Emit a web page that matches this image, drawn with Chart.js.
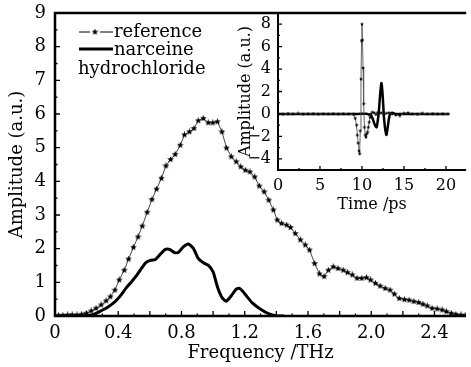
<!DOCTYPE html>
<html>
<head>
<meta charset="utf-8">
<script src="https://cdn.jsdelivr.net/npm/chart.js@4/dist/chart.umd.min.js"></script>
<style>
html, body { margin: 0; padding: 0; background: #fff; }
#wrap { position: relative; width: 471px; height: 367px; }
#main { position: absolute; left: 0; top: 0; }
#inset { position: absolute; left: 230px; top: 0; }
</style>
</head>
<body>
<div id="wrap">
<canvas id="main" width="471" height="367"></canvas>
<canvas id="inset" width="241" height="220"></canvas>
</div>
<script>
// main spectrum, reference (stars)
const refFreq = [
  0.021,0.050,0.080,0.109,0.139,0.168,0.198,0.229,0.260,0.292,
  0.323,0.350,0.379,0.406,0.438,0.465,0.496,0.525,0.552,0.583,
  0.613,0.642,0.673,0.702,0.731,0.760,0.792,0.819,0.850,0.879,
  0.906,0.938,0.969,0.998,1.027,1.056,1.085,1.115,1.146,1.175,
  1.204,1.233,1.263,1.292,1.323,1.352,1.381,1.406,1.433,1.465,
  1.490,1.520,1.552,1.583,1.610,1.642,1.673,1.702,1.729,1.760,
  1.790,1.823,1.850,1.880,1.910,1.940,1.970,1.996,2.027,2.056,
  2.088,2.119,2.146,2.177,2.210,2.240,2.270,2.300,2.327,2.354,
  2.385,2.417,2.448,2.475,2.506,2.535,2.567,2.594
]
const refAmp = [
  0.02,0.02,0.03,0.03,0.03,0.05,0.08,0.15,0.23,0.33,
  0.45,0.57,0.77,1.07,1.36,1.69,2.04,2.35,2.67,3.08,
  3.46,3.77,4.09,4.46,4.65,4.80,5.07,5.38,5.47,5.57,
  5.80,5.87,5.74,5.74,5.77,5.47,4.99,4.73,4.58,4.43,
  4.33,4.28,4.13,3.86,3.69,3.44,3.15,2.85,2.75,2.70,
  2.63,2.45,2.26,2.11,1.96,1.56,1.25,1.17,1.36,1.46,
  1.41,1.36,1.29,1.22,1.12,1.12,1.14,1.07,0.97,0.89,
  0.82,0.77,0.65,0.52,0.49,0.47,0.43,0.40,0.35,0.30,
  0.23,0.21,0.18,0.13,0.08,0.05,0.03,0.02
]

// main spectrum, narceine hydrochloride (thick line)
const narFreq = [
  0.02,0.10,0.20,0.229,0.260,0.290,0.323,0.354,0.385,0.417,
  0.448,0.479,0.510,0.542,0.573,0.604,0.635,0.667,0.698,0.725,
  0.756,0.780,0.813,0.844,0.875,0.906,0.938,0.969,1.000,1.027,
  1.056,1.083,1.115,1.146,1.167,1.190,1.210,1.250,1.300,1.354,
  1.396,1.450
]
const narAmp = [
  0.00,0.00,0.01,0.03,0.08,0.15,0.23,0.33,0.45,0.62,
  0.82,0.99,1.17,1.38,1.58,1.65,1.68,1.84,1.98,1.98,
  1.88,1.89,2.06,2.14,2.01,1.71,1.58,1.51,1.31,0.87,
  0.55,0.44,0.60,0.80,0.82,0.72,0.60,0.38,0.20,0.06,
  0.01,0.00
]

// inset, time domain
const insetRefTime = [
  0.0,0.6,1.2,1.8,2.4,3.0,3.6,4.2,4.8,5.4,
  6.0,6.6,7.2,7.8,8.4,9.0,9.2,9.35,9.45,9.55,
  9.65,9.72,9.8,9.88,9.95,10.0,10.06,10.13,10.2,10.3,
  10.4,10.47,10.56,10.66,10.76,10.86,10.96,11.05,11.25,11.45,
  11.65,11.85,12.05,12.3,12.6,12.9,13.2,13.6,14.0,14.5,
  15.0,15.5,16.0,16.6,17.2,17.8,18.4,19.0,19.6,20.3
]
const insetRefAmp = [
  0.02,-0.03,0.03,0.0,0.04,-0.02,0.02,0.03,-0.03,0.02,
  0.0,0.03,-0.02,0.02,0.0,-0.05,-0.4,-1.0,-1.9,-2.6,
  -3.3,-3.56,-1.5,3.1,6.5,8.0,6.6,4.1,0.9,-1.2,
  -1.9,-2.08,-1.8,-1.63,-1.2,-0.74,-0.3,0.0,0.15,0.1,
  -0.05,0.12,0.05,0.1,-0.05,0.05,0.1,0.0,-0.1,-0.15,
  0.05,0.1,0.0,-0.05,0.05,0.0,0.03,-0.02,0.02,0.0
]
const insetNarTime = [
  0.0,2.0,4.0,6.0,8.0,9.5,10.5,10.8,11.05,11.2,
  11.36,11.55,11.74,11.88,12.02,12.15,12.33,12.5,12.65,12.9,
  13.1,13.3,13.57,14.0,15.0,16.0,18.0,20.3
]
const insetNarAmp = [
  0.0,0.0,0.0,0.0,0.0,0.0,0.02,-0.05,-0.1,-0.3,
  -0.6,-1.0,-1.19,-0.6,0.3,1.6,2.75,1.2,-0.6,-1.87,
  -1.0,-0.1,0.1,0.0,0.0,0.0,0.0,0.0
]

const freqTicks = [0, 0.4, 0.8, 1.2, 1.6, 2.0, 2.4]
const ampTicks = [0, 1, 2, 3, 4, 5, 6, 7, 8, 9]
const timeTicks = [0, 5, 10, 15, 20]
const insetAmpTicks = [-4, -2, 0, 2, 4, 6, 8]

const SERIF = "'DejaVu Serif', serif"
Chart.defaults.color = '#000'
Chart.defaults.font.family = SERIF

function starImage(size) {
  let c = document.createElement('canvas')
  c.width = size
  c.height = size
  let g = c.getContext('2d')
  let r = size / 2, ri = r * 0.45
  g.beginPath()
  for (let i = 0; i < 10; i++) {
    let rad = i % 2 ? ri : r
    let ang = -Math.PI / 2 + i * Math.PI / 5
    g.lineTo(r + rad * Math.cos(ang), r + rad * Math.sin(ang))
  }
  g.closePath()
  g.fillStyle = '#000'
  g.fill()
  return c
}

function points(xs, ys) {
  return xs.map((x, i) => ({ x: x, y: ys[i] }))
}

function fixedTicks(list) {
  return scale => { scale.ticks = list.map(v => ({ value: v })) }
}

// fixed box sizes so the plot area lands where the picture has it
function fitWidth(w) {
  return s => { s.width = w; s.paddingTop = 0; s.paddingBottom = 0 }
}
function fitHeight(h) {
  return s => { s.height = h; s.paddingLeft = 0; s.paddingRight = 0 }
}

function isMult(v, step) {
  let q = v / step
  return Math.abs(q - Math.round(q)) < 1e-6
}

// axes frame with inward ticks
const framePlugin = {
  id: 'frame',
  afterDatasetsDraw(chart, args, o) {
    const { ctx, chartArea: a } = chart
    const x = chart.scales.x, y = chart.scales.y
    ctx.save()
    ctx.strokeStyle = '#000'
    ctx.lineWidth = o.width
    ctx.beginPath()
    ctx.moveTo(a.right, a.top)
    ctx.lineTo(a.left, a.top)
    ctx.lineTo(a.left, a.bottom)
    ctx.lineTo(a.right, a.bottom)
    ctx.stroke()

    ctx.lineWidth = 1.3
    ctx.beginPath()
    for (let i = 1; x.min + i * o.xMinor <= x.max - o.xMinor / 2; i++) {
      let v = x.min + i * o.xMinor
      let px = x.getPixelForValue(v)
      let len = isMult(v, o.xMajor) ? o.major : o.minor
      ctx.moveTo(px, a.bottom)
      ctx.lineTo(px, a.bottom - len)
    }
    for (let i = 1; y.min + i * o.yMinor <= y.max - o.yMinor / 2; i++) {
      let v = y.min + i * o.yMinor
      let py = y.getPixelForValue(v)
      let len = isMult(v, o.yMajor) ? o.major : o.minor
      ctx.moveTo(a.left, py)
      ctx.lineTo(a.left + len, py)
    }
    ctx.stroke()
    ctx.restore()
  }
}

const legendPlugin = {
  id: 'textLegend',
  afterDraw(chart) {
    const ctx = chart.ctx
    ctx.save()
    ctx.fillStyle = '#000'
    ctx.strokeStyle = '#000'
    ctx.font = '18px ' + SERIF
    ctx.textBaseline = 'alphabetic'
    ctx.textAlign = 'left'
    ctx.lineWidth = 1
    ctx.beginPath()
    ctx.moveTo(79, 32); ctx.lineTo(90, 32)
    ctx.moveTo(100, 32); ctx.lineTo(113, 32)
    ctx.stroke()
    ctx.drawImage(starMain, 95 - starMain.width / 2, 32 - starMain.height / 2)
    ctx.fillText('reference', 114, 37)
    ctx.lineWidth = 3
    ctx.beginPath()
    ctx.moveTo(79, 49); ctx.lineTo(113, 49)
    ctx.stroke()
    ctx.fillText('narceine', 114, 55)
    ctx.fillText('hydrochloride', 78, 74)
    ctx.restore()
  }
}

const starMain = starImage(7)
const starInset = starImage(4)

new Chart(document.getElementById('main'), {
  type: 'line',
  data: {
    datasets: [
      {
        label: 'reference',
        data: points(refFreq, refAmp),
        borderColor: '#333',
        borderWidth: 0.9,
        pointStyle: starMain,
        pointRadius: 3.5,
        tension: 0,
      },
      {
        label: 'narceine hydrochloride',
        data: points(narFreq, narAmp),
        borderColor: '#000',
        borderWidth: 3,
        pointRadius: 0,
        tension: 0.2,
      },
    ],
  },
  options: {
    responsive: false,
    animation: false,
    events: [],
    layout: { padding: { top: 13, right: 0, left: 0, bottom: 0 } },
    plugins: {
      legend: { display: false },
      tooltip: { enabled: false },
      frame: { width: 2.5, xMinor: 0.1, xMajor: 0.2, yMinor: 0.5, yMajor: 1, major: 5, minor: 2.5 },
    },
    scales: {
      x: {
        type: 'linear',
        min: 0,
        max: 2.6,
        afterBuildTicks: fixedTicks(freqTicks),
        afterFit: fitHeight(51),
        grid: { display: false, drawTicks: false },
        border: { display: false },
        ticks: {
          padding: 7,
          maxRotation: 0,
          autoSkip: false,
          font: { size: 18 },
          callback: v => v === 0 ? '0' : v.toFixed(1),
        },
        title: { display: true, text: 'Frequency /THz', font: { size: 18 }, padding: { top: 0, bottom: 3 } },
      },
      y: {
        min: 0,
        max: 9,
        afterBuildTicks: fixedTicks(ampTicks),
        afterFit: fitWidth(55),
        grid: { display: false, drawTicks: false },
        border: { display: false },
        ticks: { padding: 9, font: { size: 18 } },
        title: { display: true, text: 'Amplitude (a.u.)', font: { size: 18 }, padding: { top: 7, bottom: 0 } },
      },
    },
  },
  plugins: [framePlugin, legendPlugin],
})

new Chart(document.getElementById('inset'), {
  type: 'line',
  data: {
    datasets: [
      {
        label: 'reference',
        data: points(insetRefTime, insetRefAmp),
        borderColor: '#555',
        borderWidth: 0.9,
        pointStyle: starInset,
        pointRadius: 2,
        tension: 0,
      },
      {
        label: 'narceine hydrochloride',
        data: points(insetNarTime, insetNarAmp),
        borderColor: '#000',
        borderWidth: 2.5,
        pointRadius: 0,
        tension: 0.3,
      },
    ],
  },
  options: {
    responsive: false,
    animation: false,
    events: [],
    layout: { padding: { top: 13, right: 0, left: 0, bottom: 0 } },
    plugins: {
      legend: { display: false },
      tooltip: { enabled: false },
      frame: { width: 2, xMinor: 2.5, xMajor: 5, yMinor: 1, yMajor: 2, major: 4, minor: 2 },
    },
    scales: {
      x: {
        type: 'linear',
        min: 0,
        max: 22.4,
        afterBuildTicks: fixedTicks(timeTicks),
        afterFit: fitHeight(50),
        grid: { display: false, drawTicks: false },
        border: { display: false },
        ticks: { padding: 6, maxRotation: 0, autoSkip: false, font: { size: 16 } },
        title: { display: true, text: 'Time /ps', font: { size: 16 }, padding: { top: 0, bottom: 6 } },
      },
      y: {
        min: -5,
        max: 9,
        afterBuildTicks: fixedTicks(insetAmpTicks),
        afterFit: fitWidth(48),
        grid: { display: false, drawTicks: false },
        border: { display: false },
        ticks: { padding: 7, font: { size: 16 }, callback: v => v < 0 ? '\u2212' + Math.abs(v) : String(v) },
        title: { display: true, text: 'Amplitude (a.u.)', font: { size: 16 }, padding: { top: 6, bottom: 0 } },
      },
    },
  },
  plugins: [framePlugin],
})
</script>
</body>
</html>
